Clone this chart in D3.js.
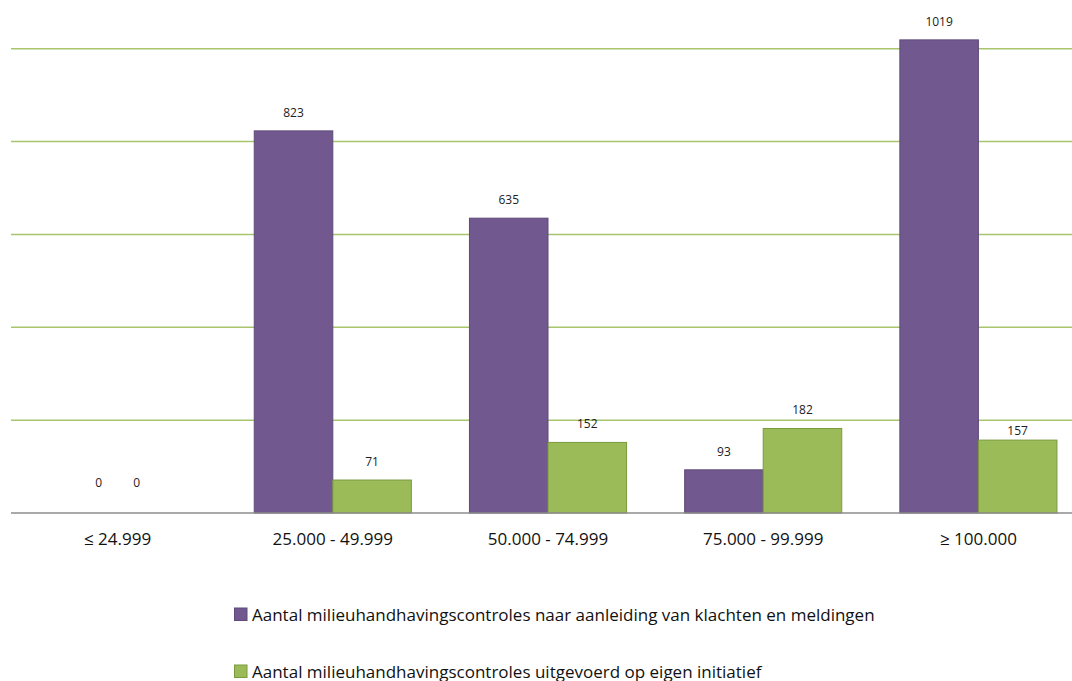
<!DOCTYPE html>
<html><head><meta charset="utf-8">
<script src="https://cdn.jsdelivr.net/npm/d3@7"></script>
<style>html,body{margin:0;background:#fff;overflow:hidden}svg{display:block}text{font-family:"Open Sans",sans-serif}</style>
</head><body><svg id="c" width="1072" height="681"></svg>
<script>
const categories = ["≤ 24.999","25.000 - 49.999","50.000 - 74.999","75.000 - 99.999","≥ 100.000"];
const seriesNames = ["Aantal milieuhandhavingscontroles naar aanleiding van klachten en meldingen","Aantal milieuhandhavingscontroles uitgevoerd op eigen initiatief"];
const klachten = [0, 823, 635, 93, 1019];
const eigen = [0, 71, 152, 182, 157];
const yTicks = [0, 200, 400, 600, 800, 1000];

(function(){
const svg = d3.select("#c");
const colors = ["#71588F", "#9BBB59"];
const strokes = ["#5F4A7A", "#7A9A3E"];
const pLeft = 10, pRight = 1086, pTop = 48.7, pBottom = 513;
const x0 = d3.scaleBand().domain(categories).range([pLeft, pRight]).paddingInner(0.27).paddingOuter(0.135);
const x1 = d3.scaleBand().domain([0,1]).range([0, x0.bandwidth()]);
const y = d3.scaleLinear().domain([0, 1000]).range([pBottom, pTop]);

svg.append("g").selectAll("line").data(yTicks.filter(d=>d>0)).join("line")
  .attr("x1", 11).attr("x2", 1072).attr("y1", d=>y(d)).attr("y2", d=>y(d))
  .attr("stroke", "#A8C56E").attr("stroke-width", 1.5);

const data = categories.map((c,i)=>({c, i, v:[klachten[i], eigen[i]]}));
const g = svg.append("g").selectAll("g").data(data).join("g")
  .attr("transform", d=>`translate(${x0(d.c)},0)`);
g.selectAll("rect").data(d=>d.v.map((v,k)=>({v,k,i:d.i}))).join("rect")
  .attr("x", d=>x1(d.k)).attr("width", x1.bandwidth())
  .attr("y", d=>y(d.v)).attr("height", d=>pBottom - y(d.v))
  .attr("fill", d=>colors[d.k]).attr("stroke", d=>strokes[d.k]).attr("stroke-width", 1)
  .attr("visibility", d=>d.v>0?"visible":"hidden");
// label gap above bar top (the last green label sits closer to its bar in the original)
const gapFor = d => d.v === 0 ? 26 : (d.i === 4 && d.k === 1 ? 5 : 14);
g.selectAll("text").data(d=>d.v.map((v,k)=>({v,k,i:d.i}))).join("text")
  .attr("x", d=> d.v>0 ? x1(d.k)+x1.bandwidth()/2 : x0.bandwidth()/2 + (d.k===0?-1:1)*19)
  .attr("y", d=>y(d.v) - gapFor(d))
  .attr("text-anchor","middle").attr("font-size", 12).attr("fill","#222")
  .text(d=>d.v);

svg.append("line").attr("x1", 11).attr("x2", 1072).attr("y1", pBottom).attr("y2", pBottom)
  .attr("stroke", "#8C8C8C").attr("stroke-width", 1.5);

svg.append("g").selectAll("text").data(categories).join("text")
  .attr("x", d=>x0(d)+x0.bandwidth()/2).attr("y", 544.5)
  .attr("text-anchor","middle").attr("font-size", 17).attr("fill","#111").text(d=>d);

const lg = svg.append("g").selectAll("g").data(seriesNames).join("g")
  .attr("transform", (d,i)=>`translate(234.5,${608 + i*57})`);
lg.append("rect").attr("width", 12.5).attr("height", 12.5).attr("y", 0)
  .attr("fill", (d,i)=>colors[i]).attr("stroke", (d,i)=>strokes[i]);
lg.append("text").attr("x", 17.5).attr("y", 12.5).attr("font-size", 17).attr("fill","#111").text(d=>d);
})();
</script></body></html>
